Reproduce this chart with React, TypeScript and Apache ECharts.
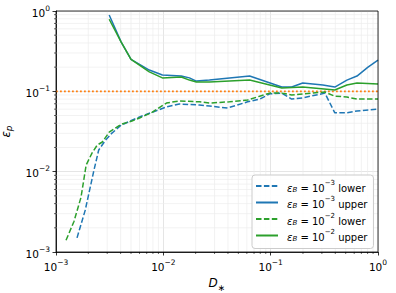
import React, { useEffect, useRef } from "react";
import * as echarts from "echarts";

// ---- data ----
const xBlueLower = [0.00157, 0.00187, 0.00226, 0.0025, 0.0029, 0.0033, 0.00405, 0.006, 0.0079, 0.0107, 0.0141, 0.0217, 0.0269, 0.0396, 0.061, 0.079, 0.098, 0.127, 0.157, 0.199, 0.32, 0.396, 0.513, 0.637, 1.0];
const yBlueLower = [0.0015, 0.0033, 0.0105, 0.0186, 0.0248, 0.030, 0.038, 0.048, 0.055, 0.064, 0.0695, 0.0675, 0.0656, 0.062, 0.074, 0.080, 0.093, 0.095, 0.080, 0.083, 0.095, 0.054, 0.054, 0.057, 0.060];

const xBlueUpper = [0.00313, 0.00405, 0.005, 0.0074, 0.0098, 0.0147, 0.0175, 0.0203, 0.0269, 0.0414, 0.0637, 0.127, 0.157, 0.199, 0.306, 0.396, 0.513, 0.637, 0.807, 1.0];
const yBlueUpper = [0.89, 0.41, 0.25, 0.184, 0.16, 0.155, 0.147, 0.134, 0.138, 0.147, 0.155, 0.113, 0.113, 0.127, 0.12, 0.113, 0.138, 0.155, 0.2, 0.245];

const xGreenLower = [0.00124, 0.00147, 0.00171, 0.00191, 0.00217, 0.00242, 0.0027, 0.00313, 0.00405, 0.0051, 0.006, 0.0079, 0.0107, 0.0141, 0.0217, 0.0269, 0.0414, 0.061, 0.079, 0.098, 0.127, 0.157, 0.199, 0.32, 0.396, 0.513, 0.637, 1.0];
const yGreenLower = [0.0014, 0.0024, 0.0048, 0.0121, 0.0171, 0.0214, 0.0234, 0.031, 0.039, 0.0427, 0.0465, 0.055, 0.0715, 0.076, 0.074, 0.0715, 0.074, 0.078, 0.087, 0.095, 0.095, 0.09, 0.093, 0.098, 0.087, 0.085, 0.08, 0.08];

const xGreenUpper = [0.00313, 0.00405, 0.005, 0.0074, 0.0098, 0.0147, 0.0175, 0.0203, 0.0269, 0.0637, 0.127, 0.199, 0.396, 0.513, 0.637, 1.0];
const yGreenUpper = [0.79, 0.41, 0.25, 0.175, 0.147, 0.151, 0.138, 0.131, 0.131, 0.138, 0.11, 0.113, 0.104, 0.12, 0.127, 0.123];

const refLevel = 0.1;
const axisMin = 0.001;
const axisMax = 1;

const seriesNames = [
  "eB3 lower",
  "eB3 upper",
  "eB2 lower",
  "eB2 upper",
];
const seriesLabels: Record<string, string> = {
  "eB3 lower": "{e|ε}{sub|B}{t| = 10}{sup|−3}{t| lower}",
  "eB3 upper": "{e|ε}{sub|B}{t| = 10}{sup|−3}{t| upper}",
  "eB2 lower": "{e|ε}{sub|B}{t| = 10}{sup|−2}{t| lower}",
  "eB2 upper": "{e|ε}{sub|B}{t| = 10}{sup|−2}{t| upper}",
};

const minorMultipliers = [2, 3, 4, 5, 6, 7, 8, 9];
const decades = [0.001, 0.01, 0.1];

const FONT = "DejaVu Sans";
const BLUE = "#1f77b4";
const GREEN = "#2ca02c";
const ORANGE = "#ff7f0e";

function zip(xs: number[], ys: number[]) {
  return xs.map((x, i) => [x, ys[i]]);
}

function expLabel(v: number) {
  const e = Math.round(Math.log10(v));
  const s = e < 0 ? "−" + -e : String(e);
  return "{b|10}{s|" + s + "}";
}

const tickRich = {
  b: { fontSize: 10.5, fontFamily: FONT, color: "#000", lineHeight: 14, verticalAlign: "bottom" },
  s: { fontSize: 7.5, fontFamily: FONT, color: "#000", lineHeight: 9, verticalAlign: "top" },
};

export default function App() {
  const ref = useRef<HTMLDivElement>(null);
  useEffect(() => {
    if (!ref.current) return;
    const chart = echarts.init(ref.current, null, { renderer: "svg" });

    const minorData: number[][] = [];
    decades.forEach((d) => {
      minorMultipliers.forEach((m) => {
        minorData.push([m * d, 0.01, 0]);
        minorData.push([0.01, m * d, 1]);
      });
    });

    const dash = [5.5, 2.4];
    const lineSeries = (name: string, xs: number[], ys: number[], color: string, dashed: boolean) => ({
      name,
      type: "line",
      data: zip(xs, ys),
      showSymbol: false,
      symbol: "none",
      z: 3,
      lineStyle: { color, width: 1.5, type: dashed ? dash : "solid" },
      itemStyle: { color },
    });

    chart.setOption({
      animation: false,
      textStyle: { fontFamily: FONT },
      grid: {
        left: 56,
        right: 18,
        top: 11,
        bottom: 41,
        containLabel: false,
        outerBoundsMode: "none",
        show: true,
        borderColor: "#000",
        borderWidth: 0.8,
        backgroundColor: "transparent",
        z: 4,
      },
      xAxis: {
        type: "log",
        logBase: 10,
        min: axisMin,
        max: axisMax,
        name: "{d|D}{sub|∗}",
        nameLocation: "middle",
        nameGap: 21,
        nameTextStyle: {
          rich: {
            d: { fontSize: 12, fontStyle: "italic", fontFamily: FONT, color: "#000", lineHeight: 16, verticalAlign: "top" },
            sub: { fontSize: 9, fontFamily: FONT, color: "#000", lineHeight: 9, verticalAlign: "bottom" },
          },
        },
        axisLine: { show: true, lineStyle: { color: "#000", width: 0.8 } },
        axisTick: { show: true, length: 3.5, lineStyle: { color: "#000", width: 0.8 } },
        axisLabel: { formatter: expLabel, margin: 6, rich: tickRich },
        splitLine: { show: true, lineStyle: { color: "#dedede", width: 0.8 } },
        minorTick: { show: false },
      },
      yAxis: {
        type: "log",
        logBase: 10,
        min: axisMin,
        max: axisMax,
        name: "{e|ε}{sub|p}",
        nameLocation: "middle",
        nameRotate: 90,
        nameGap: 43,
        nameTextStyle: {
          rich: {
            e: { fontSize: 12, fontStyle: "italic", fontFamily: FONT, color: "#000", lineHeight: 13, verticalAlign: "top" },
            sub: { fontSize: 9, fontStyle: "italic", fontFamily: FONT, color: "#000", lineHeight: 7, verticalAlign: "bottom" },
          },
        },
        axisLine: { show: true, lineStyle: { color: "#000", width: 0.8 } },
        axisTick: { show: true, length: 3.5, lineStyle: { color: "#000", width: 0.8 } },
        axisLabel: { formatter: expLabel, margin: 6, rich: tickRich },
        splitLine: { show: true, lineStyle: { color: "#dedede", width: 0.8 } },
        minorTick: { show: false },
      },
      legend: {
        data: seriesNames,
        orient: "vertical",
        left: 252,
        top: 175,
        itemWidth: 22,
        itemHeight: 10,
        itemGap: 2.5,
        padding: [4, 6, 6, 3],
        backgroundColor: "rgba(255,255,255,0.85)",
        borderColor: "#cccccc",
        borderWidth: 1,
        borderRadius: 3,
        itemStyle: { opacity: 0 },
        formatter: (n: string) => seriesLabels[n],
        textStyle: {
          fontFamily: FONT,
          fontSize: 10,
          color: "#000",
          padding: [0, 0, 0, 4],
          rich: {
            e: { fontSize: 10, fontStyle: "italic", fontFamily: FONT, color: "#000", lineHeight: 14, verticalAlign: "bottom" },
            sub: { fontSize: 7, fontStyle: "italic", fontFamily: FONT, color: "#000", lineHeight: 8, verticalAlign: "bottom" },
            t: { fontSize: 10, fontFamily: FONT, color: "#000", lineHeight: 14, verticalAlign: "bottom" },
            sup: { fontSize: 7, fontFamily: FONT, color: "#000", lineHeight: 9, verticalAlign: "top" },
          },
        },
      },
      series: [
        {
          name: "minor",
          type: "custom",
          silent: true,
          clip: false,
          z: 1,
          data: minorData,
          renderItem: (params: any, api: any) => {
            const a = api.value(0);
            const b = api.value(1);
            const kind = api.value(2);
            if (kind === 0) {
              const top = api.coord([a, axisMax]);
              const bot = api.coord([a, axisMin]);
              return {
                type: "group",
                children: [
                  { type: "line", shape: { x1: top[0], y1: top[1], x2: bot[0], y2: bot[1] }, style: { stroke: "#ececec", lineWidth: 0.7 } },
                  { type: "line", shape: { x1: bot[0], y1: bot[1], x2: bot[0], y2: bot[1] + 2 }, style: { stroke: "#000", lineWidth: 0.6 } },
                ],
              };
            }
            const l = api.coord([axisMin, b]);
            const r = api.coord([axisMax, b]);
            return {
              type: "group",
              children: [
                { type: "line", shape: { x1: l[0], y1: l[1], x2: r[0], y2: r[1] }, style: { stroke: "#ececec", lineWidth: 0.7 } },
                { type: "line", shape: { x1: l[0] - 2, y1: l[1], x2: l[0], y2: l[1] }, style: { stroke: "#000", lineWidth: 0.6 } },
              ],
            };
          },
        },
        {
          name: "ref",
          type: "line",
          data: [[axisMin, refLevel], [axisMax, refLevel]],
          showSymbol: false,
          symbol: "none",
          z: 3,
          lineStyle: { color: ORANGE, width: 1.8, type: [1.8, 2.2] },
        },
        lineSeries(seriesNames[0], xBlueLower, yBlueLower, BLUE, true),
        lineSeries(seriesNames[1], xBlueUpper, yBlueUpper, BLUE, false),
        lineSeries(seriesNames[2], xGreenLower, yGreenLower, GREEN, true),
        lineSeries(seriesNames[3], xGreenUpper, yGreenUpper, GREEN, false),
      ],
    });
    return () => chart.dispose();
  }, []);
  return (
    <div
      ref={ref}
      style={{ position: "absolute", left: 0, top: 0, width: 396, height: 293, background: "#fff" }}
    />
  );
}
